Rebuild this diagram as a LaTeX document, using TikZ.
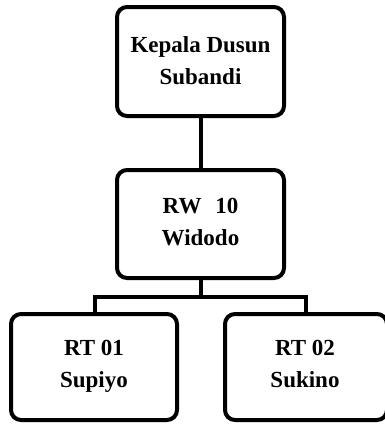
\documentclass[tikz,border=0pt]{standalone}
\usepackage{fontspec}
\setmainfont{Liberation Serif}
\begin{document}
\begin{tikzpicture}[x=1pt,y=-1pt,
  box/.style={draw=black,line width=4pt,rounded corners=10pt,fill=white},
  lbl/.style={font=\bfseries\fontsize{23}{32}\selectfont,align=center,inner sep=0pt},
  conn/.style={draw=black,line width=4pt}]
\useasboundingbox (0,0) rectangle (385,424);
\clip (0,0) rectangle (385,424);
% connectors
\coordinate (bl) at (95,297);
\coordinate (br) at (306,297);
\coordinate (bm) at (201,297);
\draw[conn] (201,116) -- (201,170);
\draw[conn] (201,278) -- (bm);
\draw[conn,line join=miter] (95,314) -- (bl) -- (br) -- (306,314);
% boxes
\draw[box] (117,7) rectangle (284,116);
\node[lbl] (kd) at (200.5,62) {\strut Kepala Dusun\\\strut Subandi};
\draw[box] (117,170) rectangle (284,278);
\node[lbl] (rw) at (200.5,223) {\strut RW\hspace{0.6em}10\\\strut Widodo};
\draw[box] (11,314) rectangle (177,420);
\node[lbl] (rt1) at (94,365) {\strut RT 01\\\strut Supiyo};
\draw[box] (225,314) rectangle (387,420);
\node[lbl] (rt2) at (305,365) {\strut RT 02\\\strut Sukino};
\end{tikzpicture}
\end{document}
